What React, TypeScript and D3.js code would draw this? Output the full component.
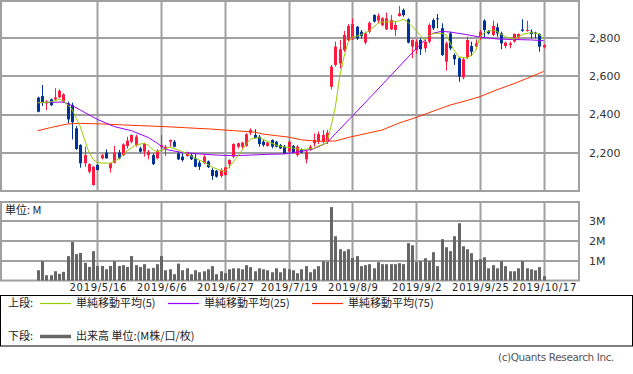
import React from "react";
import * as d3 from "d3";

// ---- data (trading-day index based) ----
const opens = [2489,2497,2459,2480,2480,2490,2468,2459,2450,2328,2241,2145,2101,2031,2136,2171,2201,2119,2148,2201,2188,2236,2258,2240,2223,2206,2188,2188,2171,2232,2223,2258,2258,2197,2180,2183,2188,2171,2148,2148,2155,2110,2106,2079,2084,2140,2180,2232,2232,2236,2305,2293,2284,2258,2236,2267,2258,2241,2232,2206,2236,2188,2215,2166,2215,2250,2258,2258,2258,2546,2660,2668,2738,2791,2794,2860,2834,2777,2834,2921,2892,2869,2846,2846,2843,2916,2948,2899,2756,2738,2791,2747,2782,2895,2904,2852,2677,2825,2712,2695,2595,2700,2759,2756,2799,2892,2839,2817,2857,2825,2759,2764,2782,2805,2846,2839,2834,2829,2822,2752];
const highs = [2494,2555,2476,2484,2538,2532,2512,2468,2462,2340,2245,2232,2145,2130,2140,2194,2218,2148,2236,2215,2250,2284,2297,2295,2232,2253,2215,2197,2218,2293,2241,2270,2267,2206,2197,2206,2197,2194,2162,2188,2160,2119,2110,2119,2127,2166,2250,2253,2258,2302,2328,2323,2293,2267,2258,2270,2262,2246,2241,2264,2241,2241,2223,2211,2241,2302,2311,2319,2319,2660,2782,2791,2838,2874,2904,2864,2843,2834,2887,2925,2930,2910,2934,2921,2887,2969,2956,2904,2794,2794,2799,2794,2878,2904,2927,2878,2782,2834,2721,2700,2700,2808,2782,2794,2843,2899,2843,2892,2878,2834,2782,2782,2825,2825,2899,2892,2846,2834,2825,2769];
const lows = [2412,2445,2424,2446,2476,2485,2462,2355,2270,2215,2122,2127,2092,2028,2108,2166,2170,2096,2145,2166,2183,2223,2250,2232,2201,2180,2166,2136,2166,2206,2183,2232,2229,2162,2154,2180,2162,2124,2110,2141,2120,2058,2070,2070,2079,2119,2171,2223,2223,2232,2293,2276,2232,2232,2232,2223,2228,2220,2194,2197,2197,2180,2197,2145,2210,2232,2246,2250,2246,2532,2651,2642,2729,2782,2791,2791,2799,2768,2825,2882,2878,2862,2843,2843,2811,2913,2913,2773,2695,2717,2712,2725,2773,2843,2852,2707,2630,2738,2660,2572,2585,2690,2707,2742,2791,2799,2820,2811,2808,2742,2747,2747,2777,2795,2834,2834,2799,2799,2729,2747];
const closes = [2415,2462,2468,2449,2490,2525,2506,2375,2360,2220,2145,2188,2141,2127,2110,2188,2171,2145,2201,2171,2244,2264,2293,2285,2206,2246,2206,2141,2211,2241,2232,2267,2232,2166,2162,2201,2166,2127,2127,2180,2125,2079,2075,2110,2124,2162,2246,2250,2253,2297,2319,2276,2246,2241,2253,2232,2232,2223,2197,2258,2201,2232,2201,2206,2232,2267,2298,2293,2305,2651,2756,2742,2817,2864,2874,2799,2811,2825,2881,2887,2918,2904,2904,2895,2869,2930,2921,2777,2791,2782,2742,2782,2869,2852,2899,2712,2773,2747,2690,2599,2690,2791,2729,2773,2834,2843,2825,2864,2825,2773,2777,2773,2822,2822,2839,2843,2822,2822,2756,2764];
const volumes = [0.52,0.98,0.27,0.27,0.47,0.34,0.44,1.24,1.96,1.34,1.4,0.9,0.69,1.49,0.74,0.74,0.57,0.74,0.98,0.74,0.78,0.69,1.24,0.78,0.69,0.83,0.61,0.64,0.83,1.24,0.52,0.57,0.32,0.86,0.52,0.62,0.32,0.52,0.42,0.47,0.57,0.73,0.32,0.47,0.37,0.57,0.62,0.62,0.57,0.78,0.68,0.47,0.62,0.57,0.52,0.42,0.62,0.42,0.62,0.57,0.52,0.37,0.57,0.73,0.42,0.57,0.73,0.98,0.95,3.73,2.25,1.59,1.49,1.59,1.15,1.24,0.73,0.78,0.83,0.62,0.93,0.83,0.83,0.83,0.83,0.88,0.83,1.9,1.79,0.95,0.98,1.13,0.98,1.44,0.73,2.1,1.69,1.49,2.25,2.91,1.74,1.59,1.39,1.03,1.08,1.18,0.62,0.78,0.62,0.98,0.73,0.47,0.47,0.62,0.98,0.62,0.57,0.52,0.68,0.22];

const ma5 = [[0,2462],[3,2466],[5,2480],[6,2472],[8,2430],[10,2337],[11,2270],[12,2205],[13,2165],[14,2148],[17,2145],[19,2168],[21,2210],[23,2240],[25,2250],[26,2240],[27,2218],[28,2206],[30,2220],[31,2230],[33,2215],[35,2197],[37,2171],[39,2152],[41,2125],[43,2108],[44,2102],[45,2125],[47,2180],[49,2245],[50,2272],[52,2281],[53,2270],[56,2241],[58,2230],[60,2225],[62,2216],[65,2224],[66,2235],[68,2252],[69,2340],[70,2440],[71,2598],[72,2700],[73,2780],[74,2805],[76,2817],[78,2839],[80,2878],[81,2884],[83,2886],[85,2890],[86,2899],[87,2885],[89,2840],[90,2815],[91,2790],[92,2810],[93,2825],[95,2826],[96,2818],[97,2775],[98,2735],[99,2702],[101,2696],[102,2710],[103,2735],[104,2805],[105,2830],[107,2843],[108,2835],[110,2808],[112,2794],[114,2820],[116,2829],[118,2822],[119,2794]];
const ma25 = [[0,2462],[6,2466],[8,2448],[10,2424],[14,2375],[18,2337],[22,2316],[26,2280],[28,2252],[30,2218],[34,2201],[38,2194],[42,2188],[46,2185],[50,2188],[54,2192],[58,2194],[62,2207],[65,2222],[68,2252],[70,2300],[74,2392],[78,2486],[82,2580],[86,2675],[89,2745],[91,2790],[93,2826],[95,2836],[97,2832],[100,2822],[104,2806],[108,2796],[112,2793],[116,2791],[119,2787]];
const ma75 = [[0,2316],[3,2332],[7,2351],[10,2354],[15,2351],[22,2344],[30,2337],[35,2331],[41,2324],[46,2316],[51,2308],[53,2298],[56,2290],[59,2282],[62,2268],[66,2260],[70,2262],[73,2280],[77,2300],[81,2319],[85,2356],[89,2385],[93,2418],[97,2450],[101,2474],[104,2494],[108,2530],[112,2562],[116,2598],[119,2626]];

const tickIdx = [14, 29, 44, 59, 74, 89, 104, 119];
const tickLabels = ["2019/5/16","2019/6/6","2019/6/27","2019/7/19","2019/8/9","2019/9/2","2019/9/25","2019/10/17"];
const priceTicks = [2200, 2400, 2600, 2800];
const volTicks = [1, 2, 3];
const legendItems = ["単純移動平均(5)", "単純移動平均(25)", "単純移動平均(75)"];

const UP = "#ff1a40";
const DOWN = "#003399";
const GRID = "#a0a0a0";
const C5 = "#99cc00";
const C25 = "#9900ff";
const C75 = "#ff3300";
const VOL = "#666666";
const FONT = "'DejaVu Sans', sans-serif";
const JFONT = "'Noto Sans CJK JP', sans-serif";

export default function App() {
  const R = 579;
  const x = d3.scaleLinear().domain([-8.89, 127.31]).range([0, R]);
  const yP = d3.scaleLinear().domain([2000, 3000]).range([191, 0]);
  const yV = d3.scaleLinear().domain([0, 4]).range([280.5, 201.8]);
  const px = (i: number) => Math.round(x(i));

  const line = d3.line<number[]>().x((d) => x(d[0])).y((d) => yP(d[1]));

  return (
    <svg width={633} height={374} style={{ position: "absolute", left: 0, top: 0, background: "#fff" }}>
      {/* price panel */}
      <rect x={1} y={1} width={R - 1} height={190} fill="#fff" stroke={GRID} strokeWidth={2} />
      {priceTicks.map((v) => (
        <line key={"pg" + v} x1={0} x2={R} y1={Math.round(yP(v))} y2={Math.round(yP(v))} stroke={GRID} strokeWidth={2} />
      ))}
      {tickIdx.map((t) => (
        <line key={"pv" + t} x1={px(t) + 0.5} x2={px(t) + 0.5} y1={0} y2={191} stroke={GRID} strokeWidth={2} />
      ))}
      {priceTicks.map((v) => (
        <text key={"pl" + v} x={589} y={yP(v)} dy="0.35em" fontSize={11} fontFamily={FONT} fill="#333">
          {d3.format(",")(v)}
        </text>
      ))}
      {/* candles */}
      {opens.map((o, i) => {
        const c = closes[i];
        const col = c >= o ? UP : DOWN;
        const cx = px(i);
        const top = yP(Math.max(o, c));
        const bot = yP(Math.min(o, c));
        return (
          <g key={"c" + i}>
            <line x1={cx + 0.5} x2={cx + 0.5} y1={yP(highs[i])} y2={yP(lows[i])} stroke={col} strokeWidth={1} />
            <rect x={cx - 1} y={top} width={3} height={Math.max(1, bot - top)} fill={col} />
          </g>
        );
      })}
      <path d={line(ma75 as number[][]) || ""} fill="none" stroke={C75} strokeWidth={1} />
      <path d={line(ma25 as number[][]) || ""} fill="none" stroke={C25} strokeWidth={1} />
      <path d={line(ma5 as number[][]) || ""} fill="none" stroke={C5} strokeWidth={1} />

      {/* volume panel */}
      <rect x={1} y={202} width={R - 1} height={78.5} fill="#fff" stroke={GRID} strokeWidth={2} />
      {volTicks.map((v) => (
        <line key={"vg" + v} x1={0} x2={R} y1={Math.round(yV(v))} y2={Math.round(yV(v))} stroke={GRID} strokeWidth={2} />
      ))}
      {tickIdx.map((t) => (
        <line key={"vv" + t} x1={px(t) + 0.5} x2={px(t) + 0.5} y1={201} y2={281} stroke={GRID} strokeWidth={2} />
      ))}
      {volumes.map((v, i) => (
        <rect key={"v" + i} x={px(i) - 1} y={yV(v)} width={3} height={yV(0) - yV(v)} fill={VOL} />
      ))}
      {volTicks.map((v) => (
        <text key={"vl" + v} x={589} y={yV(v)} dy="0.35em" fontSize={11} fontFamily={FONT} fill="#333">
          {v + "M"}
        </text>
      ))}
      <text x={5} y={210} dy="0.35em" fontSize={11} fontFamily={JFONT} fill="#222">単位: M</text>

      {/* x labels */}
      {tickIdx.map((t, k) => (
        <text key={"xl" + t} x={x(t) + 1} y={291} textAnchor="middle" fontSize={10} fontFamily={FONT} fill="#222" letterSpacing={0.7}>
          {tickLabels[k]}
        </text>
      ))}

      {/* legend */}
      <rect x={0.5} y={295.5} width={632} height={50.5} fill="#fff" stroke="#000" strokeWidth={1} />
      <text x={8} y={303.5} dy="0.35em" fontSize={11} fontFamily={JFONT} fill="#222">上段:</text>
      {[C5, C25, C75].map((c, k) => {
        const lx = [40, 168, 312][k];
        return (
          <g key={"lg" + k}>
            <line x1={lx} x2={lx + 31} y1={303.5} y2={303.5} stroke={c} strokeWidth={1.2} />
            <text x={lx + 36} y={303.5} dy="0.35em" fontSize={11} fontFamily={JFONT} fill="#222">{legendItems[k]}</text>
          </g>
        );
      })}
      <text x={8} y={336.5} dy="0.35em" fontSize={11} fontFamily={JFONT} fill="#222">下段:</text>
      <line x1={40} x2={71} y1={336.5} y2={336.5} stroke={VOL} strokeWidth={3.5} />
      <text x={76} y={336.5} dy="0.35em" fontSize={11} fontFamily={JFONT} fill="#222">出来高 単位:(M株/口/枚)</text>

      <text x={614} y={357.5} dy="0.35em" textAnchor="end" fontSize={10.5} fontFamily={FONT} fill="#555" letterSpacing={-0.4}>
        (c)Quants Research Inc.
      </text>
    </svg>
  );
}
